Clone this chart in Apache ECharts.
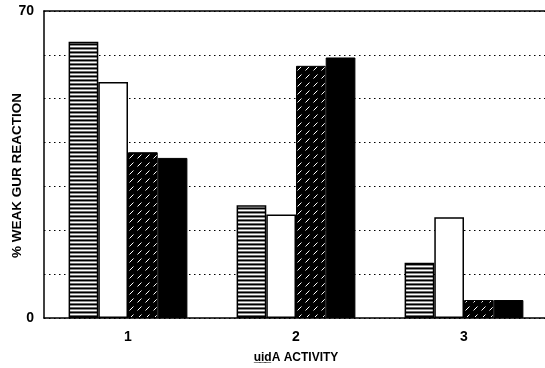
<!DOCTYPE html>
<html>
<head>
<meta charset="utf-8">
<script src="https://cdn.jsdelivr.net/npm/echarts@6/dist/echarts.min.js"></script>
<style>html,body{margin:0;padding:0;background:#fff;}#c{width:545px;height:368px;}</style>
</head>
<body>
<div id="c"></div>
<script>
const categories = ['1', '2', '3'];
const stripedValues = [63, 25.7, 12.6];
const whiteValues = [53.8, 23.6, 23];
const hatchedValues = [37.8, 57.5, 4.1];
const blackValues = [36.5, 59.4, 4.1];
const yTickLabels = { 0: '0', 70: '70' };
const yAxisTitle = '% WEAK GUR REACTION';
const xAxisTitle = 'u\u0332i\u0332d\u0332A ACTIVITY';

function stripePattern() {
  const c = document.createElement('canvas');
  c.width = 4; c.height = 4;
  const g = c.getContext('2d');
  g.fillStyle = '#000'; g.fillRect(0, 0, 4, 1);
  g.fillStyle = '#8a8a8a'; g.fillRect(0, 1, 4, 1);
  g.fillStyle = '#fff'; g.fillRect(0, 2, 4, 1);
  g.fillStyle = '#6a6a6a'; g.fillRect(0, 3, 4, 1);
  return c;
}
function hatchPattern() {
  const c = document.createElement('canvas');
  c.width = 8; c.height = 8;
  const g = c.getContext('2d');
  g.fillStyle = '#000'; g.fillRect(0, 0, 8, 8);
  g.strokeStyle = '#fff'; g.lineWidth = 1;
  g.beginPath(); g.moveTo(1.5, 6.5); g.lineTo(5.5, 2.5); g.stroke();
  return c;
}

const chart = echarts.init(document.getElementById('c'), null, { renderer: 'canvas' });
const font = 'Liberation Sans';
const barCommon = { type: 'bar', barWidth: 29.7, barGap: '0%', xAxisIndex: 0, yAxisIndex: 0 };
chart.setOption({
  animation: false,
  backgroundColor: '#fff',
  grid: { left: 44, top: 11, width: 504, height: 307, containLabel: false, outerBoundsMode: 'none' },
  xAxis: [
    {
      type: 'category', data: categories, position: 'bottom',
      axisLine: { lineStyle: { color: '#000', width: 1.5 } },
      axisTick: { show: false },
      axisLabel: { color: '#000', fontFamily: font, fontWeight: 'bold', fontSize: 14, margin: 12 },
      name: xAxisTitle, nameLocation: 'middle', nameGap: 34, nameMoveOverlap: false,
      nameTextStyle: { color: '#000', fontFamily: font, fontWeight: 'bold', fontSize: 12 }
    },
    {
      type: 'category', data: categories, position: 'top',
      axisLine: { lineStyle: { color: '#000', width: 1.5 } },
      axisTick: { show: false }, axisLabel: { show: false }
    }
  ],
  yAxis: {
    type: 'value', min: 0, max: 70, interval: 10,
    axisLine: { show: true, lineStyle: { color: '#000', width: 1.5 } },
    axisTick: { show: false },
    axisLabel: {
      color: '#000', fontFamily: font, fontWeight: 'bold', fontSize: 14, margin: 10,
      formatter: v => (yTickLabels[v] !== undefined ? yTickLabels[v] : '')
    },
    splitLine: { show: true, lineStyle: { color: '#000', width: 1, type: [1.5, 3.5] } },
    name: yAxisTitle, nameLocation: 'middle', nameGap: 20, nameRotate: 90, nameMoveOverlap: false,
    nameTextStyle: { color: '#000', fontFamily: font, fontWeight: 'bold', fontSize: 13.5, padding: [0, 22, 0, 0] }
  },
  series: [
    Object.assign({}, barCommon, { name: 'striped', data: stripedValues,
      itemStyle: { color: { image: stripePattern(), repeat: 'repeat' }, borderColor: '#000', borderWidth: 1.5 } }),
    Object.assign({}, barCommon, { name: 'white', data: whiteValues,
      itemStyle: { color: '#fff', borderColor: '#000', borderWidth: 1.5 } }),
    Object.assign({}, barCommon, { name: 'hatched', data: hatchedValues,
      itemStyle: { color: { image: hatchPattern(), repeat: 'repeat' }, borderColor: '#000', borderWidth: 1 } }),
    Object.assign({}, barCommon, { name: 'black', data: blackValues,
      itemStyle: { color: '#000', borderColor: '#000', borderWidth: 1 } })
  ]
});
</script>
</body>
</html>
